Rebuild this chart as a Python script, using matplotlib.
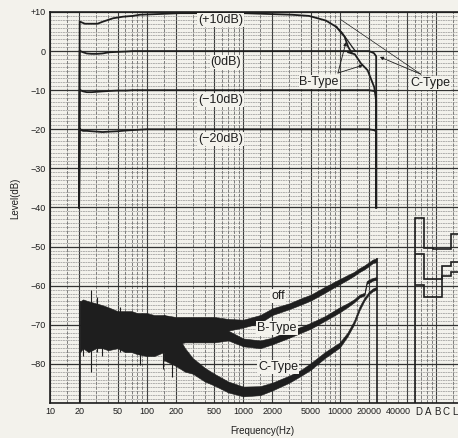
import numpy as np
import matplotlib.pyplot as plt
from matplotlib.ticker import FixedLocator, NullLocator

plt.rcParams.update({
    "font.family": ["Liberation Sans", "DejaVu Sans"],
    "font.size": 7,
})

PAPER = "#f3f2ec"
INK = "#1e1e1e"

# ---- level sweeps (20 Hz .. 24 kHz), dB ----
resp_f = [20, 20.3, 21, 22, 24, 27, 31, 35, 41, 50, 62, 72, 100, 1000, 10000, 20000, 22500, 23800, 23800]
zero_db = [-40, 0.2, -0.1, -0.3, -0.6, -0.7, -0.7, -0.6, -0.3, -0.2, -0.1, 0.0, 0, 0, 0, 0, -0.5, -1.3, -40]
minus10_db = [-40, -9.8, -10.1, -10.3, -10.5, -10.5, -10.4, -10.3, -10.2, -10.1, -10.1, -10, -10, -10, -10, -10, -10.2, -10.5, -40]
minus20_db = [-40, -19.8, -20.2, -20.4, -20.4, -20.5, -20.6, -20.7, -20.6, -20.5, -20.3, -20.2, -20, -20, -20, -20, -20.2, -20.5, -40]

plus10_f = [20, 20.3, 21, 23, 27, 31, 35, 45, 57, 72, 85, 140, 220, 1000, 3200, 4800, 7200, 9200]
plus10_db = [-40, 7.6, 7.4, 7.0, 7.0, 7.0, 7.5, 8.4, 8.8, 9.0, 9.3, 9.5, 9.7, 9.7, 9.3, 9.0, 7.8, 6.2]

# +10 dB with B-type: steep fall that joins the 0 dB B-type roll-off
plus10_b_f = [9200, 11200, 12200, 13300]
plus10_b_db = [6.2, 3.7, 1.1, -0.5]
# +10 dB with C-type: gentler fall onto the 0 dB line
plus10_c_f = [9200, 10500, 12000, 13500, 14500]
plus10_c_db = [6.2, 4.8, 2.8, 1.0, 0.0]
# 0 dB with B-type roll-off down to the cut-off
zero_b_f = [12200, 14300, 16500, 19400, 22700, 23800, 23800]
zero_b_db = [-0.3, -0.8, -3.1, -4.9, -9.2, -12.6, -40]

# ---- noise floor (off / B-type / C-type), band = lower..upper envelope ----
noise_f = [20.5, 22, 25, 30, 35, 40, 50, 60, 70, 80, 100, 120, 150, 200, 250, 300, 400, 500, 700,
           1000, 1500, 2000, 3000, 4000, 5000, 7000, 10000, 12000, 14000, 16000, 18000, 20000, 22000, 24000]
off_hi = [-64, -63.5, -64, -64.5, -65, -65.5, -66.5, -66.5, -66.5, -67, -67, -67.5, -67.5, -68, -68, -68, -68, -68, -68.5,
          -68.7, -67.5, -65.8, -64.5, -63.2, -62.3, -60.3, -58.3, -57.3, -56.5, -55.5, -54.8, -54, -53.3, -53]
off_lo = [-77, -76, -77, -76, -76, -76.5, -76, -77, -77, -77.5, -78, -78, -77, -75, -74, -73.5, -73, -72.5, -71.5,
          -70.7, -69.5, -67.5, -66, -64.8, -63.8, -61.8, -59.6, -58.5, -57.5, -56.5, -55.8, -55, -54.2, -54]

split_f = [150, 200, 250, 300, 400, 500, 700, 1000, 1500, 2000, 3000, 4000, 5000, 7000, 10000, 12000,
           14000, 16000, 18000, 19000, 20000, 22000, 24000]
btype_hi = [-67.5, -68.5, -68.5, -69, -69.5, -70, -71.5, -73.5, -74, -73.3, -71.5, -70.5, -69.5, -67.8, -65.5, -64.5,
            -63.5, -62.3, -61.8, -58.8, -58.5, -58, -57.8]
btype_lo = [-77, -75, -74.5, -74.5, -74.5, -74.5, -74, -75.5, -76, -75, -73.3, -72, -71, -69, -66.8, -65.5,
            -64.3, -63, -62.5, -59.5, -59.3, -58.7, -58.5]
ctype_hi = [-68, -72, -76, -78.5, -81, -82.5, -84.5, -85.8, -85.7, -84.8, -83, -81.5, -79.8, -77, -74.5, -72,
            -69, -65.3, -63, -62.3, -61.5, -60.7, -60.3]
ctype_lo = [-79, -80.5, -82, -82.5, -84.5, -85.5, -87.3, -88.3, -88, -86.8, -84.8, -83, -81.5, -78.5, -75.8, -73,
            -70, -66.3, -63.8, -63, -62.2, -61.4, -61]

# single spikes in the low-frequency noise
spike_f = [21.9, 26.4, 30.4, 34.5, 53, 85.5, 148, 183]
spike_hi = [-66, -61.2, -62.8, -66, -65.4, -68, -69, -70]
spike_lo = [-78, -82, -77, -78, -77, -80.4, -81.3, -83.4]

# ---- weighted noise readings ----
weight_cats = ["D", "A", "B", "C", "L"]
w_off = [-42.6, -50.3, -50.5, -50.5, -46.7]
w_btype = [-52, -58.2, -58.2, -55, -54]
w_ctype = [-59.8, -63, -63, -57.5, -56.5]

freq_ticks = [10, 20, 50, 100, 200, 500, 1000, 2000, 5000, 10000, 20000, 40000]
level_ticks = [10, 0, -10, -20, -30, -40, -50, -60, -70, -80]

# ------------------------------------------------------------
W, H = 458, 438
DEC_PX = 96.6          # pixels per decade
YMIN, YMAX = -90, 10

fig = plt.figure(figsize=(W / 100, H / 100), dpi=100, facecolor=PAPER)
ax = fig.add_axes([50 / W, 35 / H, 420 / W, 391 / H], facecolor=PAPER)
ax.set_xscale("log")
ax.set_xlim(10, 10 * 10 ** (420 / DEC_PX))
ax.set_ylim(YMIN, YMAX)

# graph paper
for dec in [10, 100, 1000, 10000, 100000]:
    for m in [1, 2, 5]:
        ax.axvline(dec * m, color="#3c3c3c", lw=0.8, zorder=0.5)
    for m in [1.5, 3, 4, 6, 7, 8, 9]:
        ax.axvline(dec * m, color="#6a6a6a", lw=0.6, ls=(0, (4, 1.5)), zorder=0.5)
for lv in range(YMIN, YMAX + 1):
    if lv % 10 == 0:
        ax.axhline(lv, color="#333333", lw=0.9, zorder=0.6)
    else:
        ax.axhline(lv, color="#8a8a8a", lw=0.45, ls=(0, (3, 1)), zorder=0.5)

# level sweeps
kw = dict(color=INK, lw=1.3, zorder=2)
ax.plot(plus10_f, plus10_db, **kw)
ax.plot(resp_f, zero_db, **kw)
ax.plot(resp_f, minus10_db, **kw)
ax.plot(resp_f, minus20_db, **kw)
ax.plot(plus10_b_f, plus10_b_db, **kw)
ax.plot(plus10_c_f, plus10_c_db, color=INK, lw=0.9, zorder=2)
ax.plot(zero_b_f, zero_b_db, **kw)

# noise floor
ax.vlines(noise_f[0], YMIN, off_hi[0], color=INK, lw=1.2, zorder=2)
ax.fill_between(noise_f, off_lo, off_hi, color=INK, lw=0.4, zorder=2)
ax.fill_between(split_f, btype_lo, btype_hi, color=INK, lw=0.4, zorder=2)
ax.fill_between(split_f, ctype_lo, ctype_hi, color=INK, lw=0.4, zorder=2)
ax.vlines(spike_f, spike_lo, spike_hi, color=INK, lw=0.8, zorder=2)
ax.vlines(noise_f[-1], YMIN, off_hi[-1], color=INK, lw=1.2, zorder=2)

# labels on the chart
lbl = dict(ha="center", va="center", fontsize=9, color=INK, zorder=4,
           bbox=dict(fc=PAPER, ec="none", pad=0.6))
ax.text(580, 8.0, "(+10dB)", **lbl)
ax.text(660, -2.8, "(0dB)", **lbl)
ax.text(580, -12.5, "(−10dB)", **lbl)
ax.text(580, -22.5, "(−20dB)", **lbl)
ax.text(2290, -62.6, "off", **lbl)
ax.text(2240, -70.8, "B-Type", **lbl)
ax.text(2300, -80.8, "C-Type", **lbl)
ax.text(6100, -7.9, "B-Type", **lbl)
ax.text(86000, -8.1, "C-Type", **lbl)

arrow = dict(arrowstyle="-|>", color=INK, lw=0.6, mutation_scale=5, shrinkA=0, shrinkB=0)
ax.annotate("", xy=(11600, 2.3), xytext=(9570, -5.6), arrowprops=arrow, zorder=3)
ax.annotate("", xy=(17400, -3.6), xytext=(9570, -5.6), arrowprops=arrow, zorder=3)
ax.annotate("", xy=(10300, 8.0), xytext=(69000, -5.9),
            arrowprops=dict(arrowstyle="-", color=INK, lw=0.5, shrinkA=0, shrinkB=0), zorder=3)
ax.annotate("", xy=(26000, -1.5), xytext=(69000, -5.9), arrowprops=arrow, zorder=3)

# axes frame / ticks
ax.xaxis.set_major_locator(FixedLocator(freq_ticks))
ax.xaxis.set_minor_locator(NullLocator())
ax.set_xticklabels([str(f) for f in freq_ticks])
ax.set_yticks(level_ticks)
ax.set_yticklabels(["+10" if v > 0 else str(v).replace("-", "−") for v in level_ticks])
ax.tick_params(length=0, pad=3, labelsize=6.5, colors=INK)
for side in ["left", "bottom", "top"]:
    ax.spines[side].set_color(INK)
    ax.spines[side].set_linewidth(1.2)
ax.spines["right"].set_visible(False)

# weighted readings panel (categorical, overlaid on the right)
axw = fig.add_axes([408 / W, 35 / H, 62 / W, 391 / H])
axw.patch.set_visible(False)
axw.set_xlim(-11 / 9, 51 / 9)
axw.set_ylim(YMIN, YMAX)
edges = np.arange(len(weight_cats) + 1) - 0.5
axw.stairs(w_off, edges, baseline=YMIN, color=INK, lw=1.2, zorder=2)
axw.stairs(w_btype, edges, baseline=None, color=INK, lw=1.2, zorder=2)
axw.stairs(w_ctype, edges, baseline=None, color=INK, lw=1.2, zorder=2)
axw.set_xticks(range(len(weight_cats)))
axw.set_xticklabels(weight_cats)
axw.set_yticks([])
axw.tick_params(length=0, pad=3, labelsize=7, colors=INK)
for s in axw.spines.values():
    s.set_visible(False)

fig.text(15 / W, 1 - 198 / H, "Level(dB)", rotation=90, ha="center", va="center", fontsize=7, color=INK)
fig.text(262 / W, 1 - 431 / H, "Frequency(Hz)", ha="center", va="center", fontsize=7, color=INK)

fig.savefig("out.png", dpi=100, facecolor=PAPER)
